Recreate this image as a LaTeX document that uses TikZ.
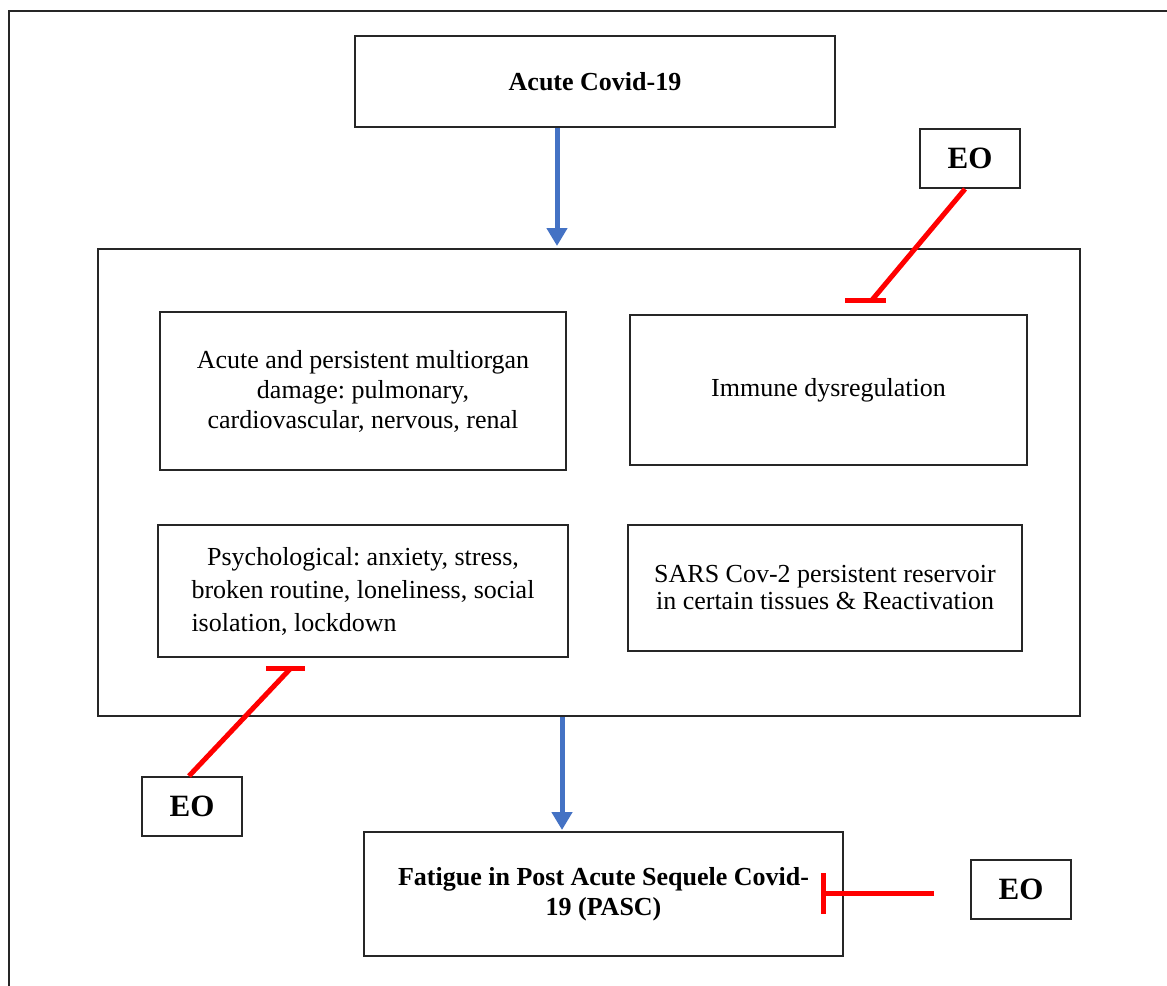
\documentclass[tikz,border=0pt]{standalone}
\usepackage{fontspec}
\setmainfont{Liberation Serif}
\usetikzlibrary{arrows.meta}
\frenchspacing
\begin{document}
\frenchspacing
\begin{tikzpicture}[x=0.5pt,y=-0.5pt,
  box/.style={draw=black!85,line width=1pt,inner sep=0pt,font=\fontsize{13}{15}\selectfont,align=center},
  eobox/.style={draw=black!85,line width=1pt,inner sep=0pt,minimum width=50pt,minimum height=29.5pt,font=\fontsize{15.5}{18}\selectfont\bfseries},
  flow/.style={draw={rgb,255:red,68;green,114;blue,196},line width=2.5pt,-{Triangle[width=10pt,length=9pt]}},
  inhib/.style={draw=red,line width=2.5pt}]
\useasboundingbox (0,0) rectangle (1167,985);
\draw[line width=1.2pt,black!85] (9,995) -- (9,11) -- (1180,11);
% main boxes
\node[box,minimum width=240pt,minimum height=45.5pt,font=\fontsize{13}{15}\selectfont\bfseries] (acute) at (595,81.5) {Acute Covid-19};
\node[draw=black!85,line width=1pt,minimum width=491pt,minimum height=233.5pt,inner sep=0pt] (big) at (589,482.5) {};
\node[box,minimum width=203pt,minimum height=79pt] (organ) at (363,391) {Acute and persistent multiorgan\\damage: pulmonary,\\cardiovascular, nervous, renal};
\node[box,minimum width=198.5pt,minimum height=75pt] (immune) at (828.5,390) {Immune dysregulation};
\node[box,minimum width=205pt,minimum height=66pt,font=\fontsize{13}{16.5}\selectfont] (psych) at (363,591) {Psychological: anxiety, stress,\\broken routine, loneliness, social\\\rlap{isolation, lockdown}\phantom{broken routine, loneliness, social}};
\node[box,minimum width=197pt,minimum height=63pt,font=\fontsize{13}{13.5}\selectfont] (sars) at (825,588) {SARS Cov-2 persistent reservoir\\in certain tissues \& Reactivation};
\node[box,minimum width=239.5pt,minimum height=62pt,font=\fontsize{13}{15}\selectfont\bfseries] (fatigue) at (603.5,894) {Fatigue in Post Acute Sequele Covid-\\19 (PASC)};
% EO boxes
\node[eobox] (eo1) at (970,158.5) {EO};
\node[eobox] (eo2) at (192,806.5) {EO};
\node[eobox] (eo3) at (1021,889) {EO};
% blue flow arrows
\draw[flow] (acute.south -| 557,0) -- (557,246);
\draw[flow] (big.south -| 562,0) -- (562,830);
% inhibition connectors
\coordinate (t1) at (872,300);
\coordinate (t2) at (291,668);
\coordinate (t3) at (825,893);
\draw[inhib] ([xshift=-2.5pt]eo1.south) -- (t1);
\draw[inhib] (845,300) -- (886,300);
\draw[inhib] ([xshift=-1.5pt]eo2.north) -- (t2);
\draw[inhib] (266,668) -- (305,668);
\draw[inhib] (934,893) -- (t3);
\draw[inhib] (823,873) -- (823,914);
\end{tikzpicture}
\end{document}
